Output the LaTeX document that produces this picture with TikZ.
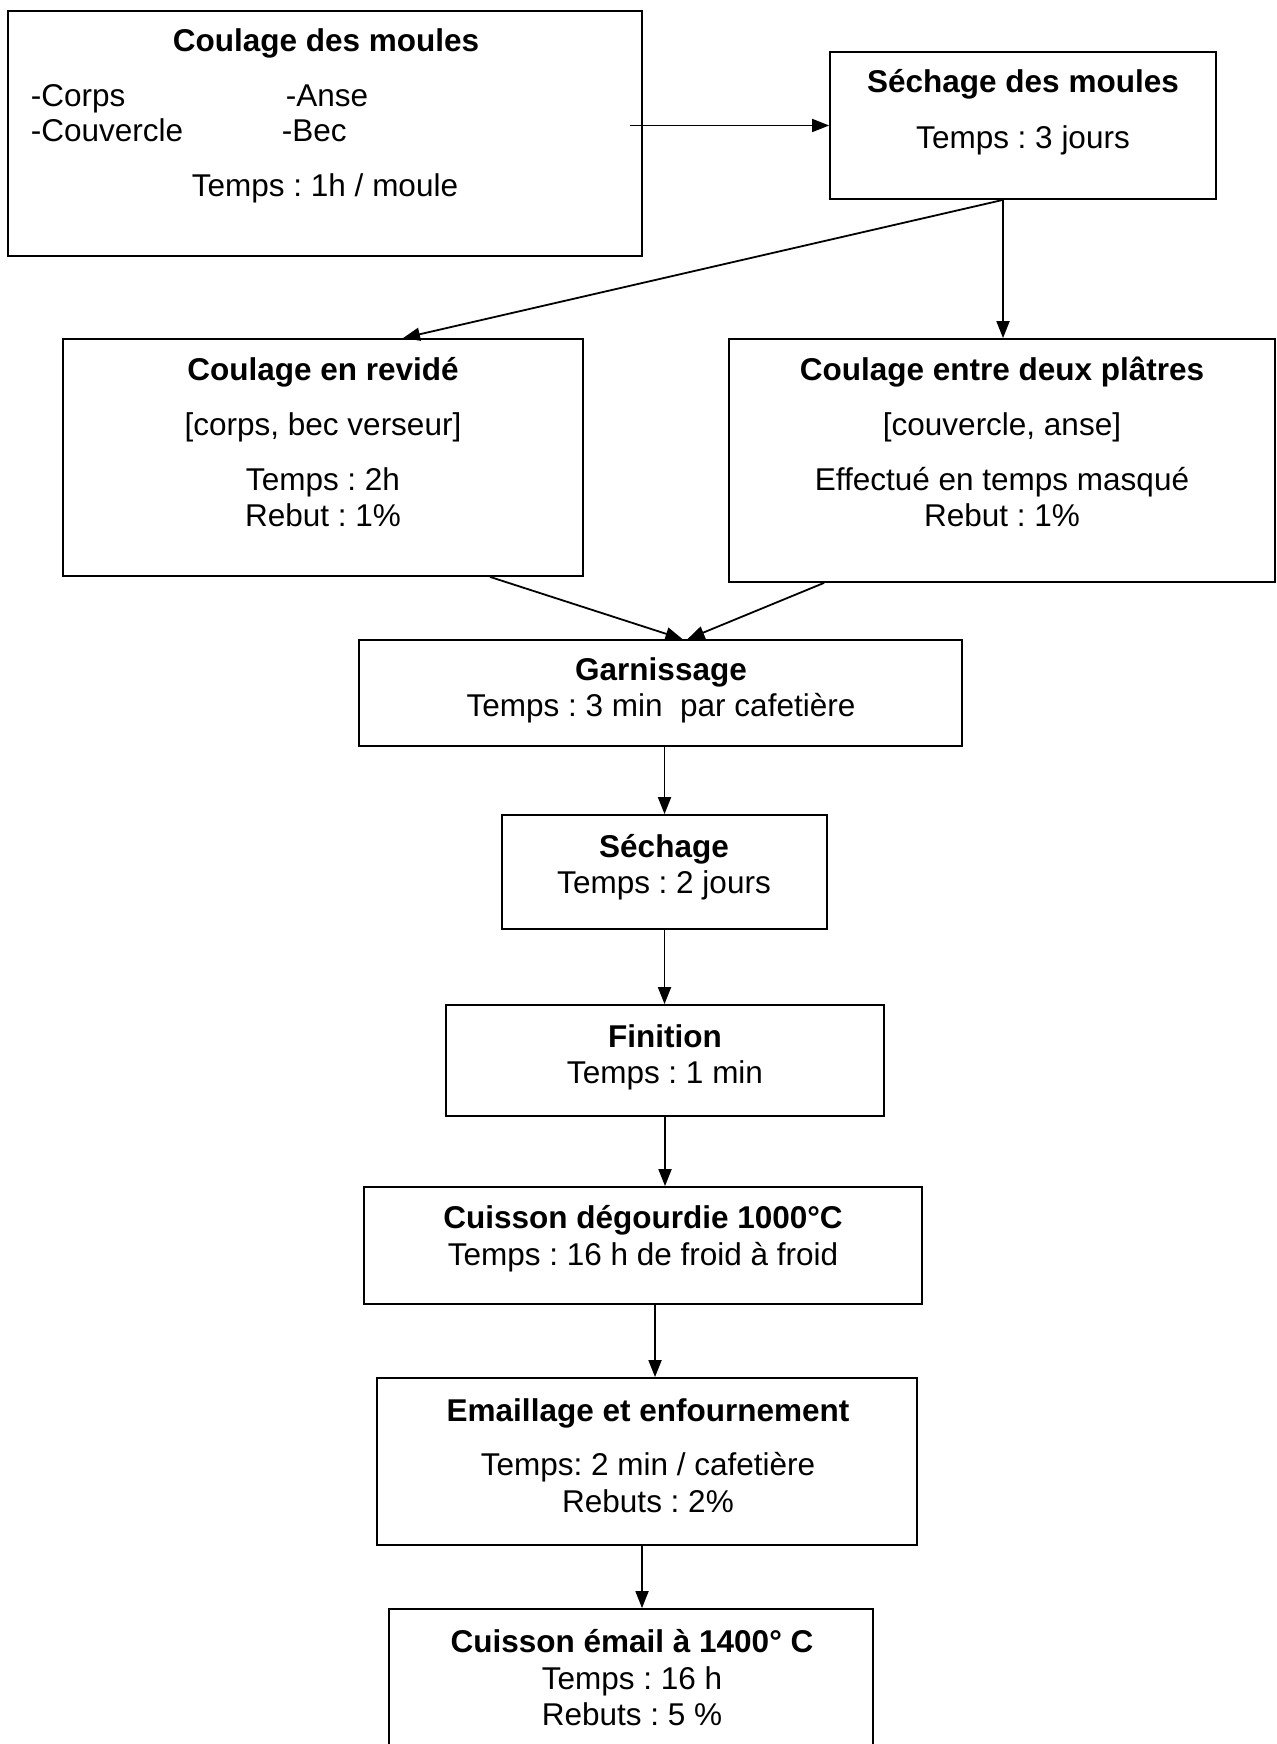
\documentclass[tikz,border=0pt]{standalone}
\usepackage{fontspec}
\setmainfont{Liberation Sans}
\usetikzlibrary{arrows.meta}
\frenchspacing

\begin{document}
\begin{tikzpicture}[x=0.5pt, y=-0.5pt, line width=0.9pt,
  every node/.style={font=\fontsize{15.75pt}{18.4pt}\selectfont, inner sep=0pt},
  box/.style={draw, rectangle},
  txt/.style={anchor=base},
  titre/.style={anchor=base, font=\fontsize{15.75pt}{18.4pt}\selectfont\bfseries},
  arr/.style={-{Triangle[length=8.5pt,width=6.5pt]}}]
\useasboundingbox[fill=white] (0,0) rectangle (1276,1744);
\clip (0,0) rectangle (1276,1744);
% les boites
\node[box, minimum width=317pt, minimum height=122.5pt] (moules) at (325,133.5) {};
\node[box, minimum width=193pt, minimum height=73.5pt] (sechM) at (1023,125.5) {};
\node[box, minimum width=260pt, minimum height=118.5pt] (revide) at (323,457.5) {};
\node[box, minimum width=273pt, minimum height=121.5pt] (platres) at (1002,460.5) {};
\node[box, minimum width=301.5pt, minimum height=53pt] (garn) at (660.5,693) {};
\node[box, minimum width=162.5pt, minimum height=57pt] (sech) at (664.5,872) {};
\node[box, minimum width=219pt, minimum height=55.5pt] (fini) at (665,1060.5) {};
\node[box, minimum width=279pt, minimum height=58.5pt] (degou) at (643,1245.5) {};
\node[box, minimum width=270pt, minimum height=83.5pt] (emaill) at (647,1461.5) {};
\node[box, minimum width=242pt, minimum height=80.5pt] (cuisE) at (631,1689.5) {};
% les textes
\node[titre] (moulesT) at (326,52) {Coulage des moules};
\node[anchor=base west] (corps) at (30,107) {-Corps};
\node[anchor=base west] (anse) at (285,107) {-Anse};
\node[anchor=base west] (couv) at (30,142) {-Couvercle};
\node[anchor=base west] (bec) at (281,142) {-Bec};
\node[txt] (moulesTps) at (325,197) {Temps : 1h / moule};
\node[titre] (sechMT) at (1023,93) {Séchage des moules};
\node[txt] (sechMTps) at (1023,149) {Temps : 3 jours};
\node[titre] (revideT) at (323,380) {Coulage en revidé};
\node[txt] (revideP) at (323,435) {[corps, bec verseur]};
\node[txt] (revideTps) at (323,490) {Temps : 2h};
\node[txt] (revideR) at (323,526) {Rebut : 1\%};
\node[titre] (platresT) at (1002,380) {Coulage entre deux plâtres};
\node[txt] (platresP) at (1002,435) {[couvercle, anse]};
\node[txt] (platresTps) at (1002,490) {Effectué en temps masqué};
\node[txt] (platresR) at (1002,526) {Rebut : 1\%};
\node[titre] (garnT) at (661,680) {Garnissage};
\node[txt] (garnTps) at (661,716) {Temps : 3 min\ \ par cafetière};
\node[titre] (sechT) at (664,857) {Séchage};
\node[txt] (sechTps) at (664,893) {Temps : 2 jours};
\node[titre] (finiT) at (665,1047) {Finition};
\node[txt] (finiTps) at (665,1083) {Temps : 1 min};
\node[titre] (degouT) at (643,1228) {Cuisson dégourdie 1000°C};
\node[txt] (degouTps) at (643,1265) {Temps : 16 h de froid à froid};
\node[titre] (emaillT) at (648,1421) {Emaillage et enfournement};
\node[txt] (emaillTps) at (648,1475) {Temps: 2 min / cafetière};
\node[txt] (emaillR) at (648,1512) {Rebuts : 2\%};
\node[titre] (cuisET) at (632,1652) {Cuisson émail à 1400° C};
\node[txt] (cuisETps) at (632,1689) {Temps : 16 h};
\node[txt] (cuisER) at (632,1725) {Rebuts : 5 \%};
% les fleches
\draw[arr] ([xshift=-6.5pt]moules.east |- sechM.west) -- (sechM.west);
\draw[arr] ([xshift=-10pt]sechM.south) -- ([xshift=40pt]revide.north);
\draw[arr] ([xshift=-10pt]sechM.south) -- ([xshift=-10pt]sechM.south |- platres.north);
\draw[arr] ([xshift=83.5pt]revide.south) -- ([xshift=11pt]garn.north);
\draw[arr] ([xshift=-89pt]platres.south) -- ([xshift=13.5pt]garn.north);
\draw[arr] (garn.south -| sech.north) -- (sech.north);
\draw[arr] (sech.south) -- (sech.south |- fini.north);
\draw[arr] (fini.south) -- (fini.south |- degou.north);
\draw[arr] ([xshift=6pt]degou.south) -- ([xshift=6pt]degou.south |- emaill.north);
\draw[arr] ([xshift=-2.5pt]emaill.south) -- ([xshift=-2.5pt]emaill.south |- cuisE.north);
\end{tikzpicture}
\end{document}
